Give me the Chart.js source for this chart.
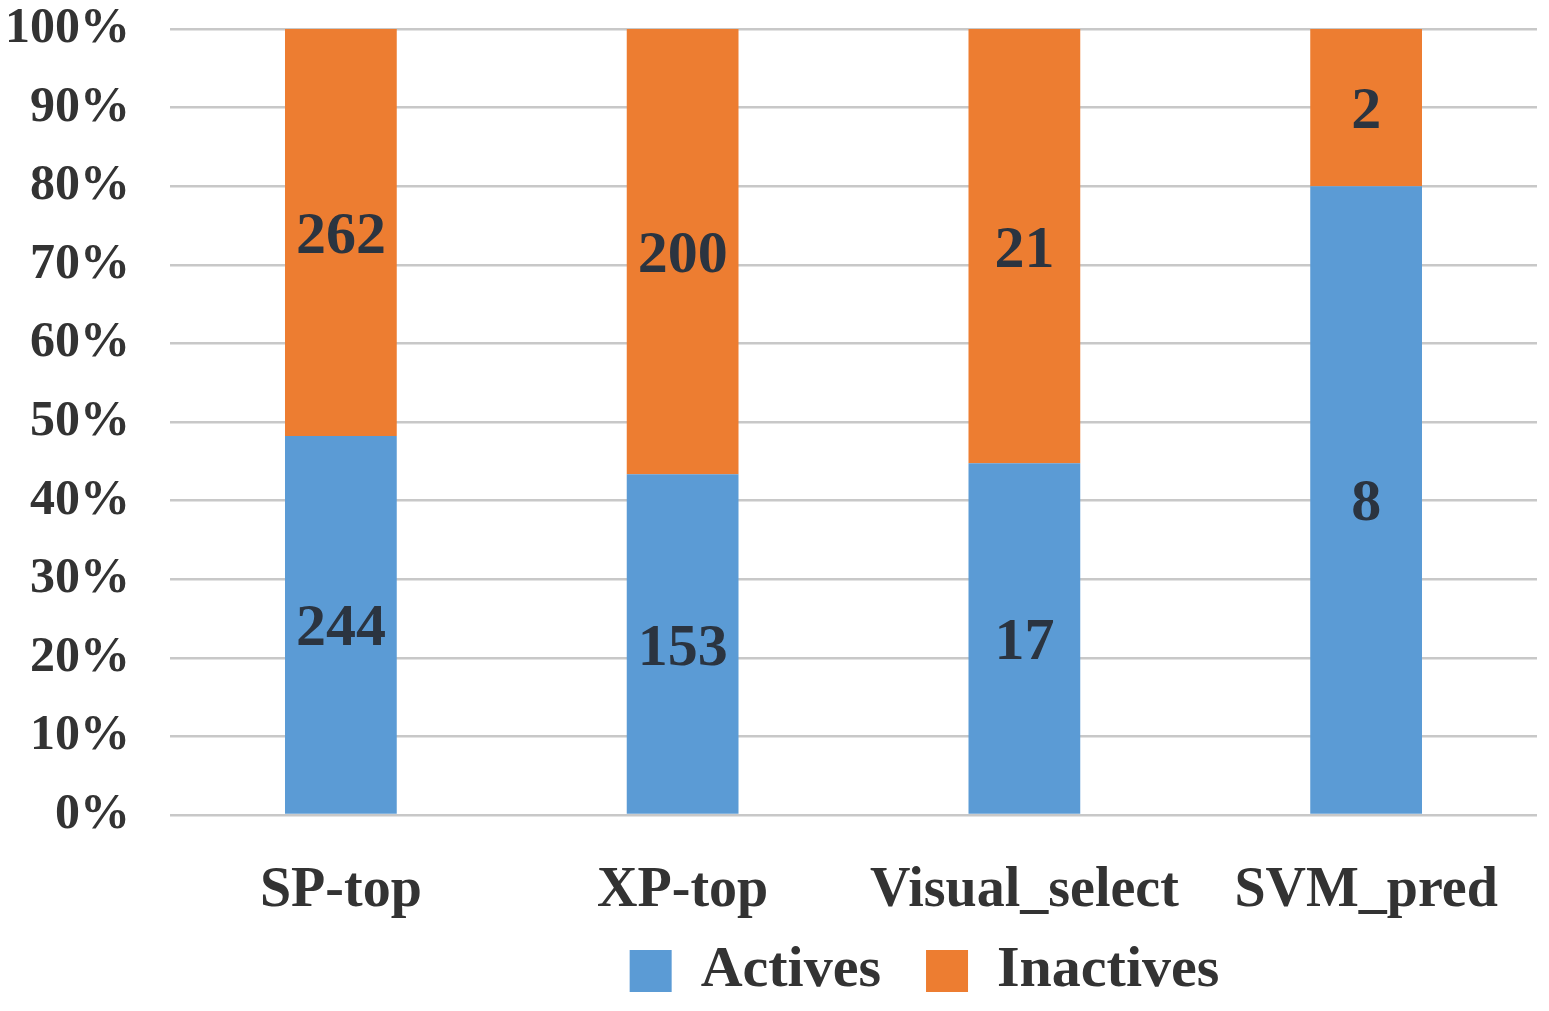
<!DOCTYPE html>
<html>
<head>
<meta charset="utf-8">
<title>Actives vs Inactives</title>
<script src="https://cdn.jsdelivr.net/npm/chart.js@4.4.0/dist/chart.umd.min.js"></script>
<style>
  body { margin: 0; background: #fff; }
  #wrap { width: 1549px; height: 1011px; position: relative; }
</style>
</head>
<body>
<div id="wrap"><canvas id="chartActives"></canvas></div>
<script>
// data
const categories = ["SP-top", "XP-top", "Visual_select", "SVM_pred"];
const activeCounts = [244, 153, 17, 8];
const inactiveCounts = [262, 200, 21, 2];
const yTicks = [0, 10, 20, 30, 40, 50, 60, 70, 80, 90, 100];

const totals = categories.map((c, i) => activeCounts[i] + inactiveCounts[i]);
const activePct = activeCounts.map((v, i) => (v / totals[i]) * 100);
const inactivePct = inactiveCounts.map((v, i) => (v / totals[i]) * 100);

const serif = "'Liberation Serif', 'Times New Roman', serif";

// counts written in the middle of each segment
const segmentLabels = {
  id: "segmentLabels",
  afterDatasetsDraw(chart) {
    const ctx = chart.ctx;
    ctx.save();
    ctx.font = "bold 60px " + serif;
    ctx.fillStyle = "#2b3440";
    ctx.textAlign = "center";
    ctx.textBaseline = "middle";
    chart.data.datasets.forEach((ds, di) => {
      const meta = chart.getDatasetMeta(di);
      meta.data.forEach((bar, i) => {
        const y = (bar.y + bar.base) / 2;
        ctx.fillText(String(ds.counts[i]), bar.x, y + 5);
      });
    });
    ctx.restore();
  },
};

// put the legend where it sits in the picture
const legendShift = {
  id: "legendShift",
  afterLayout(chart) {
    const lg = chart.legend;
    if (!lg) return;
    const h = lg.bottom - lg.top;
    lg.left = 312;
    lg.top = 897;
    lg.bottom = lg.top + h;
  },
};

const chartActives = new Chart(document.querySelector("#chartActives"), {
  type: "bar",
  data: {
    labels: categories,
    datasets: [
      {
        label: "Actives",
        data: activePct,
        counts: activeCounts,
        backgroundColor: "#5B9BD5",
        barPercentage: 0.327,
        categoryPercentage: 1,
      },
      {
        label: "Inactives",
        data: inactivePct,
        counts: inactiveCounts,
        backgroundColor: "#ED7D31",
        barPercentage: 0.327,
        categoryPercentage: 1,
      },
    ],
  },
  options: {
    responsive: true,
    maintainAspectRatio: false,
    animation: false,
    devicePixelRatio: 1,
    layout: { padding: { top: 29, right: 12, bottom: -23, left: 0 } },
    scales: {
      x: {
        stacked: true,
        grid: { display: false },
        border: { display: false },
        ticks: {
          color: "#333333",
          font: { family: serif, size: 56, weight: "bold" },
          padding: 35,
          maxRotation: 0,
        },
        afterFit: (scale) => { scale.height = 106; },
      },
      y: {
        stacked: true,
        min: 0,
        max: 100,
        afterBuildTicks: (scale) => { scale.ticks = yTicks.map((v) => ({ value: v })); },
        grid: { color: "#c8c8c8", lineWidth: 2.5, drawTicks: false },
        border: { display: false },
        ticks: {
          color: "#333333",
          font: { family: serif, size: 50, weight: "bold" },
          padding: 40,
          callback: (v) => v + "%",
        },
        afterFit: (scale) => {
          scale.width = 170;
          scale.paddingTop = 0;
          scale.paddingBottom = 0;
        },
      },
    },
    plugins: {
      tooltip: { enabled: false },
      legend: {
        position: "bottom",
        labels: {
          color: "#333333",
          font: { family: serif, size: 58, weight: "bold" },
          boxWidth: 42,
          boxHeight: 42,
          padding: 45,
        },
      },
    },
  },
  plugins: [segmentLabels, legendShift],
});
</script>
</body>
</html>
